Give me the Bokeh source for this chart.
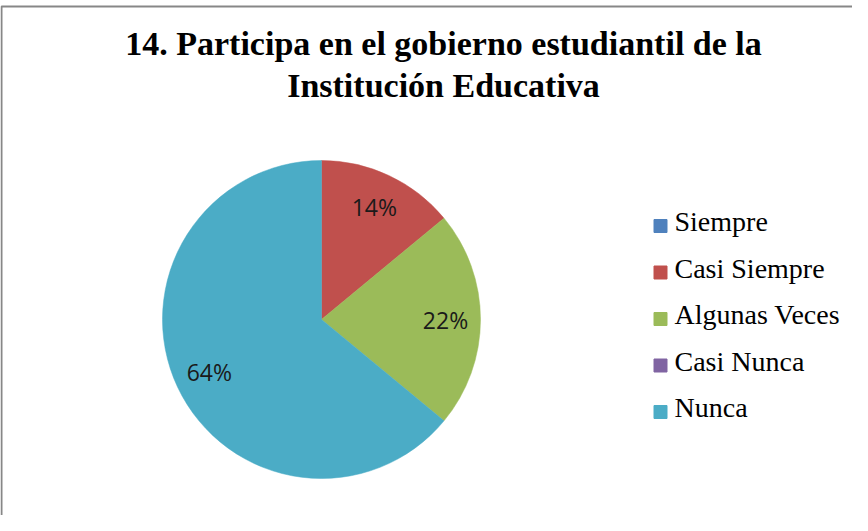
import math
from bokeh.plotting import figure
from bokeh.models import Range1d, ColumnDataSource
from bokeh.core.properties import value
from bokeh.embed import file_html
from bokeh.resources import INLINE

# ---- data ----
categories = ["Siempre", "Casi Siempre", "Algunas Veces", "Casi Nunca", "Nunca"]
percentages = [0, 14, 22, 0, 64]
colors = ["#4F81BD", "#C0504D", "#9BBB59", "#8064A2", "#4BACC6"]
title_lines = ["14. Participa en el gobierno estudiantil de la", "Institución Educativa"]

# ---- layout constants (pixel-like data space) ----
W, H = 852, 515
BOTTOM = 8 + H  # screen y of canvas bottom


def sy(screen_y):
    return BOTTOM - screen_y


CX, CY, R = 329, sy(327), 159
LABEL_R = 0.78 * R

p = figure(width=W, height=H, output_backend="svg", toolbar_location=None,
           title=None,
           x_range=Range1d(8, 8 + W), y_range=Range1d(0, H), min_border=0,
           x_axis_location=None, y_axis_location=None)
p.grid.visible = False
p.outline_line_color = None
p.background_fill_color = "white"
p.border_fill_color = "white"

# border of chart area
p.line(x=[9, 9, 2000], y=[-50, sy(14), sy(14)], line_color="#878787", line_width=2)

# wedges
total = sum(percentages)
starts, ends, wcols, lx, ly, ltxt = [], [], [], [], [], []
cum = 0
for cat, v, c in zip(categories, percentages, colors):
    if v > 0:
        a0 = math.pi / 2 - 2 * math.pi * (cum + v) / total
        a1 = math.pi / 2 - 2 * math.pi * cum / total
        starts.append(a0)
        ends.append(a1)
        wcols.append(c)
        mid = math.pi / 2 - 2 * math.pi * (cum + v / 2) / total
        lx.append(CX + LABEL_R * math.cos(mid))
        ly.append(CY + LABEL_R * math.sin(mid))
        ltxt.append(f"{v}%")
    cum += v

wsrc = ColumnDataSource(dict(start=starts, end=ends, color=wcols))
p.wedge(x=CX, y=CY, radius=R, start_angle="start", end_angle="end",
        fill_color="color", line_color="color", line_width=0.5, source=wsrc)

lsrc = ColumnDataSource(dict(x=lx, y=ly, t=ltxt))
p.text(x="x", y="y", text="t", source=lsrc, text_font=value("Open Sans"),
       text_font_size="23px", text_color="#1a1a1a", text_align="center",
       text_baseline="middle")

# title
p.text(x=[451, 451], y=[sy(51), sy(93)], text=title_lines,
       text_font=value("Liberation Serif"), text_font_style="bold",
       text_font_size="34px", text_color="black", text_align="center",
       text_baseline="alphabetic")

# legend
LEG_X, LEG_Y0, LEG_DY = 668, 233.5, 46.5
leg_y = [sy(LEG_Y0 + i * LEG_DY) for i in range(len(categories))]
p.scatter(x=[LEG_X] * len(categories), y=leg_y, marker="square", size=13,
          fill_color=colors, line_color=colors)
p.text(x=[LEG_X + 14] * len(categories), y=[v + 4.5 for v in leg_y], text=categories,
       text_font=value("Liberation Serif"), text_font_size="28px",
       text_color="black", text_align="left", text_baseline="alphabetic")

open("out.html", "w").write(file_html(p, INLINE))
